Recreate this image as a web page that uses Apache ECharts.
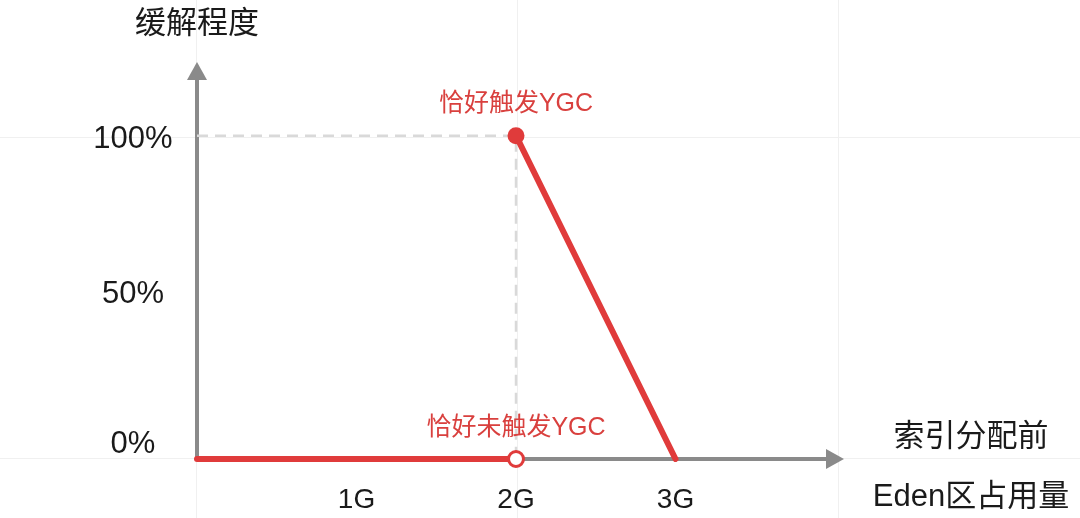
<!DOCTYPE html>
<html>
<head>
<meta charset="utf-8">
<script src="https://cdn.jsdelivr.net/npm/echarts@6/dist/echarts.min.js"></script>
<style>
html,body{margin:0;padding:0;background:#fff;}
#chart{width:1080px;height:518px;}
</style>
</head>
<body>
<div id="chart"></div>
<script>
// ---- data ----
var xTickLabels = ['', '1G', '2G', '3G', ''];
var yTickLabels = { 0: '0%', 50: '50%', 100: '100%' };
var yAxisName = '缓解程度';
var xAxisNameLines = ['索引分配前', 'Eden区占用量'];
var flatSegment = [[0, 0], [2, 0]];          // before YGC: 0% relief
var dropSegment = [[2, 100], [3, 0]];        // after YGC: falls from 100% to 0%
var guideSegment = [[0, 100], [2, 100], [2, 0]];
var labelTriggered = '恰好触发YGC';
var labelNotTriggered = '恰好未触发YGC';

var RED = '#e03b3b';
var RED_TEXT = '#d9403e';
var GRAY = '#8a8a8a';
var FAINT = '#f0f0f0';
var FONT = "'Liberation Sans', 'Noto Sans CJK SC', sans-serif";

// small vertical nudges of the hand-placed tick labels (style only)
var yLabelSpacer = { 0: { after: 29 }, 50: { after: 6 }, 100: { before: 8 } };

var chart = echarts.init(document.getElementById('chart'), null, { renderer: 'canvas' });

function bgAxis(gridIndex, max) {
  return {
    gridIndex: gridIndex, type: 'value', min: 0, max: max, interval: 1,
    axisLine: { show: false }, axisTick: { show: false }, axisLabel: { show: false },
    splitLine: { show: true, lineStyle: { color: FAINT, width: 1 } }
  };
}
function hiddenAxis(gridIndex) {
  return {
    gridIndex: gridIndex, type: 'value', min: 0, max: 1,
    axisLine: { show: false }, axisTick: { show: false }, axisLabel: { show: false },
    splitLine: { show: false }
  };
}
var spacerRich = {};
[6, 8, 16, 29].forEach(function (h) { spacerRich['s' + h] = { fontSize: 1, lineHeight: h }; });

var yRich = Object.assign({ t: { fontSize: 31, lineHeight: 31, color: '#1a1a1a', fontFamily: FONT, align: 'center' } }, spacerRich);
var xNameRich = Object.assign({ t: { fontSize: 31, lineHeight: 60, color: '#1a1a1a', fontFamily: FONT, align: 'center' } }, spacerRich);

var option = {
  backgroundColor: '#ffffff',
  animation: false,
  grid: [
    { left: 197, right: 245, top: 71, bottom: 59, outerBoundsMode: 'none', z: 2 },
    { left: 196, right: 242, top: 0, bottom: 0, outerBoundsMode: 'none', z: 0 },
    { left: 0, right: 0, top: 137, bottom: 60, outerBoundsMode: 'none', z: 0 }
  ],
  xAxis: [
    {
      gridIndex: 0,
      type: 'value', min: 0, max: 4, interval: 1,
      axisLine: { show: true, symbol: ['none', 'triangle'], symbolSize: [20, 18],
                  lineStyle: { color: GRAY, width: 4 } },
      axisTick: { show: false },
      splitLine: { show: false },
      axisLabel: {
        margin: 27, fontSize: 28, color: '#1a1a1a', fontFamily: FONT,
        formatter: function (v) { return xTickLabels[Math.round(v)] || ''; }
      },
      name: '{s16| }\n' + xAxisNameLines.map(function (s) { return '{t|' + s + '}'; }).join('\n'),
      nameLocation: 'end',
      nameGap: 136,
      nameTextStyle: { fontSize: 31, color: '#1a1a1a', fontFamily: FONT,
                       align: 'center', verticalAlign: 'middle', rich: xNameRich }
    },
    bgAxis(1, 2),
    hiddenAxis(2)
  ],
  yAxis: [
    {
      gridIndex: 0,
      type: 'value', min: 0, max: 120, interval: 50,
      axisLine: { show: true, symbol: ['none', 'triangle'], symbolSize: [20, 18],
                  lineStyle: { color: GRAY, width: 4 } },
      axisTick: { show: false },
      splitLine: { show: false },
      axisLabel: {
        margin: 64, align: 'center', verticalAlign: 'middle', fontSize: 31, color: '#1a1a1a', fontFamily: FONT,
        rich: yRich,
        formatter: function (v) {
          var txt = yTickLabels[v];
          if (!txt) return '';
          var sp = yLabelSpacer[v] || {};
          var out = '{t|' + txt + '}';
          if (sp.before) out = '{s' + sp.before + '| }\n' + out;
          if (sp.after) out = out + '\n{s' + sp.after + '| }';
          return out;
        }
      },
      name: yAxisName,
      nameLocation: 'end',
      nameGap: 47,
      nameTextStyle: { fontSize: 31, color: '#1a1a1a', fontFamily: FONT,
                       align: 'center', verticalAlign: 'middle' }
    },
    hiddenAxis(1),
    bgAxis(2, 1)
  ],
  series: [
    {
      type: 'line', xAxisIndex: 0, yAxisIndex: 0, z: 1,
      data: guideSegment, symbol: 'none', silent: true,
      lineStyle: { color: '#d9d9d9', width: 2.5, type: [11, 7] }
    },
    {
      type: 'line', xAxisIndex: 0, yAxisIndex: 0, z: 5,
      symbol: 'none',
      lineStyle: { color: RED, width: 6, cap: 'round' },
      data: [
        { value: flatSegment[0] },
        { value: flatSegment[1], symbol: 'circle', symbolSize: 15,
          itemStyle: { color: '#ffffff', borderColor: RED, borderWidth: 3 },
          label: { show: true, position: 'top', distance: 9, formatter: labelNotTriggered,
                   color: RED_TEXT, fontSize: 25, fontFamily: FONT } }
      ]
    },
    {
      type: 'line', xAxisIndex: 0, yAxisIndex: 0, z: 5,
      symbol: 'none',
      lineStyle: { color: RED, width: 6, cap: 'round' },
      data: [
        { value: dropSegment[0], symbol: 'circle', symbolSize: 17,
          itemStyle: { color: RED },
          label: { show: true, position: 'top', distance: 11, formatter: labelTriggered,
                   color: RED_TEXT, fontSize: 25, fontFamily: FONT } },
        { value: dropSegment[1] }
      ]
    }
  ]
};
chart.setOption(option);
</script>
</body>
</html>
